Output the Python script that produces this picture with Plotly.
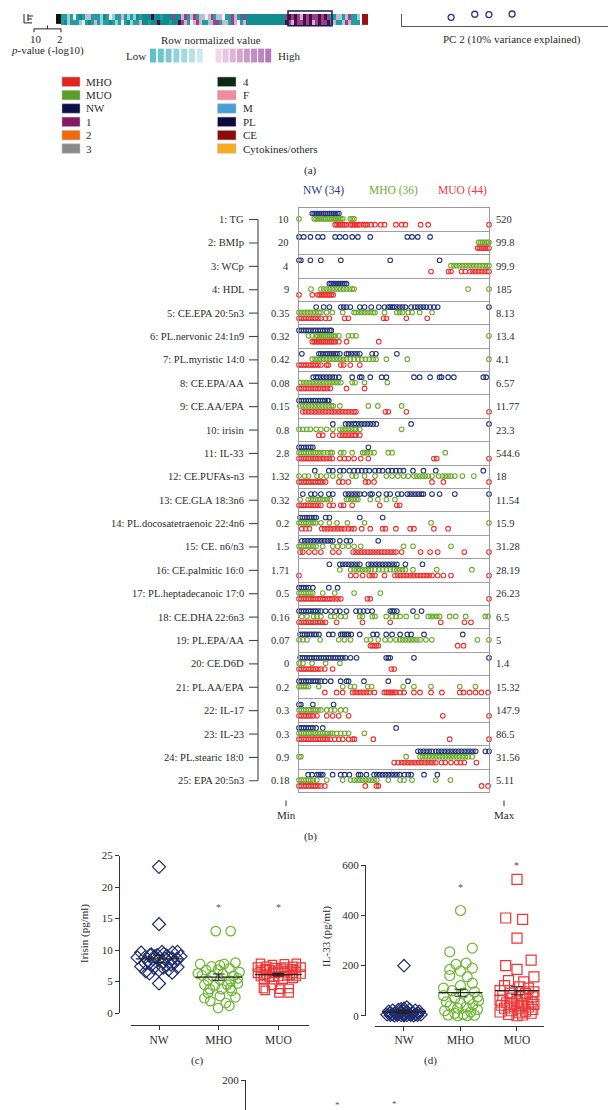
import plotly.graph_objects as go

W, H = 616, 1110
def X(px): return px / W
def Y(py): return 1 - py / H
FONT = "Liberation Serif"
TXT = "#2a2a2a"

# ---------------- panel (b) data (min-max normalised positions) ----------------
groups = ["NW", "MHO", "MUO"]
group_n = [34, 36, 44]
row_labels = ["1: TG", "2: BMIp", "3: WCp", "4: HDL", "5: CE.EPA 20:5n3", "6: PL.nervonic 24:1n9",
              "7: PL.myristic 14:0", "8: CE.EPA/AA", "9: CE.AA/EPA", "10: irisin", "11: IL-33",
              "12: CE.PUFAs-n3", "13: CE.GLA 18:3n6", "14: PL.docosatetraenoic 22:4n6", "15: CE. n6/n3",
              "16: CE.palmitic 16:0", "17: PL.heptadecanoic 17:0", "18: CE.DHA 22:6n3", "19: PL.EPA/AA",
              "20: CE.D6D", "21: PL.AA/EPA", "22: IL-17", "23: IL-23", "24: PL.stearic 18:0", "25: EPA 20:5n3"]
row_min = ["10", "20", "4", "9", "0.35", "0.32", "0.42", "0.08", "0.15", "0.8", "2.8", "1.32", "0.32",
           "0.2", "1.5", "1.71", "0.5", "0.16", "0.07", "0", "0.2", "0.3", "0.3", "0.9", "0.18"]
row_max = ["520", "99.8", "99.9", "185", "8.13", "13.4", "4.1", "6.57", "11.77", "23.3", "544.6", "18",
           "11.54", "15.9", "31.28", "28.19", "26.23", "6.5", "5", "1.4", "15.32", "147.9", "86.5", "31.56", "5.11"]

b_nw = [
    [0.07,0.08,0.09,0.10,0.11,0.12,0.13,0.14,0.15,0.16,0.17,0.18,0.19,0.20,0.21],
    [0.0,0.025,0.06,0.1,0.125,0.19,0.215,0.245,0.28,0.31,0.375,0.57,0.595,0.625,0.69],
    [0.0,0.01,0.06,0.115,0.22,0.48,0.74],
    [0.16,0.17,0.18,0.19,0.20,0.21,0.22,0.23,0.24,0.25],
    [0.09,0.13,0.16,0.22,0.235,0.25,0.27,0.32,0.345,0.38,0.42,0.45,0.47,0.48,0.49,0.50,0.515,0.53,0.545,0.56,0.59,0.61,0.625,0.64,0.655,0.67,0.69,0.71,0.73,1.0],
    [0.0,0.012,0.025,0.037,0.05,0.062,0.075,0.087,0.10,0.112,0.125,0.137,0.15,0.162,0.17],
    [0.015,0.105,0.115,0.125,0.14,0.15,0.16,0.17,0.18,0.19,0.20,0.215,0.25,0.26,0.275,0.29,0.305,0.32,0.385,0.405,0.515],
    [0.075,0.09,0.10,0.115,0.13,0.145,0.16,0.175,0.19,0.21,0.28,0.32,0.33,0.375,0.435,0.46,0.605,0.635,0.69,0.74,0.75,0.785,0.815,0.97,0.985],
    [0.0,0.012,0.025,0.037,0.05,0.062,0.075,0.087,0.10,0.112,0.125,0.137,0.15,0.157],
    [0.178,0.245,0.26,0.275,0.29,0.30,0.315,0.33,0.345,0.36,0.375,0.39,0.407,0.59,1.0],
    [0.0,0.012,0.025,0.037,0.05,0.062,0.073,0.365],
    [0.083,0.157,0.178,0.215,0.235,0.265,0.29,0.31,0.33,0.35,0.37,0.40,0.42,0.44,0.47,0.49,0.51,0.53,0.55,0.60,0.655,0.72,0.97],
    [0.02,0.063,0.083,0.115,0.157,0.178,0.245,0.26,0.275,0.29,0.305,0.32,0.345,0.375,0.385,0.42,0.46,0.48,0.52,0.54,0.57,0.585,0.60,0.615,0.63,0.645,0.655,0.70,0.74,0.82,1.0],
    [0.006,0.018,0.03,0.042,0.055,0.067,0.08,0.09,0.14,0.16,0.32,0.44],
    [0.015,0.03,0.045,0.06,0.075,0.09,0.105,0.12,0.135,0.15,0.165,0.178,0.215,0.25,0.27,0.417],
    [0.16,0.215,0.23,0.245,0.26,0.275,0.29,0.305,0.32,0.365,0.38,0.395,0.41,0.425,0.44,0.455,0.47,0.485,0.5,0.515,0.56,0.65],
    [0.0,0.012,0.025,0.037,0.05,0.073,0.157,0.203],
    [0.0,0.012,0.025,0.037,0.05,0.062,0.075,0.087,0.10,0.115,0.14,0.168,0.195,0.215,0.25,0.30,0.32,0.34,0.36,0.385,0.48,0.49,0.50,0.515,0.60,0.645],
    [0.006,0.018,0.03,0.042,0.055,0.067,0.08,0.09,0.105,0.157,0.178,0.22,0.23,0.24,0.25,0.26,0.275,0.32,0.39,0.41,0.459,0.49,0.532,0.57,0.59,0.658,0.862],
    [0.006,0.018,0.03,0.042,0.055,0.067,0.08,0.092,0.105,0.117,0.13,0.142,0.155,0.167,0.18,0.192,0.205,0.217,0.23,0.245,0.271,0.303,0.459,0.47,0.48,0.605,1.0],
    [0.0,0.012,0.025,0.037,0.05,0.062,0.075,0.087,0.10,0.115,0.136,0.167,0.219,0.25,0.261,0.342,0.47,0.574],
    [0.0,0.01,0.073,0.182],
    [0.0,0.012,0.025,0.037,0.05,0.062,0.073,0.09,0.125,0.511],
    [0.626,0.64,0.655,0.67,0.685,0.70,0.72,0.735,0.75,0.765,0.78,0.795,0.81,0.825,0.84,0.855,0.87,0.885,0.9,0.915,0.93,0.981,1.0],
    [0.048,0.069,0.094,0.105,0.115,0.125,0.177,0.219,0.24,0.265,0.313,0.324,0.355,0.395,0.41,0.425,0.44,0.455,0.47,0.485,0.5,0.515,0.53,0.555,0.575,0.59,0.658,0.728],
]
b_mho = [
    [0.0,0.08,0.09,0.10,0.11,0.12,0.13,0.14,0.15,0.16,0.17,0.18,0.19,0.20,0.21,0.22,0.23,0.27,0.28,0.29],
    [0.945,0.955,0.965,0.975,0.985,0.995,1.0],
    [0.80,0.815,0.83,0.845,0.86,0.875,0.89,0.905,0.92,0.935,0.95,0.965,0.98,0.99,1.0],
    [0.063,0.115,0.13,0.145,0.16,0.175,0.19,0.205,0.22,0.235,0.25,0.265,0.28,0.29,0.89,1.0],
    [0.0,0.015,0.03,0.045,0.06,0.075,0.09,0.105,0.115,0.145,0.175,0.23,0.29,0.30,0.315,0.33,0.345,0.36,0.375,0.39,0.40,0.45,0.515,0.53,0.545,0.575,0.595,0.635,0.70],
    [0.05,0.07,0.09,0.10,0.11,0.12,0.13,0.14,0.15,0.16,0.17,0.18,0.19,0.21,0.26,0.28,0.30,1.0],
    [0.07,0.085,0.10,0.115,0.13,0.145,0.16,0.175,0.19,0.205,0.22,0.235,0.25,0.27,0.29,0.31,0.33,0.35,0.37,0.39,0.405,0.46,0.57,1.0],
    [0.01,0.025,0.04,0.055,0.07,0.085,0.10,0.115,0.13,0.145,0.16,0.175,0.19,0.205,0.22,0.28,0.295,0.345,0.465],
    [0.005,0.02,0.035,0.05,0.065,0.08,0.095,0.11,0.125,0.14,0.155,0.17,0.18,0.215,0.365,0.415,0.54],
    [0.0,0.02,0.04,0.06,0.09,0.115,0.145,0.178,0.215,0.23,0.245,0.26,0.275,0.29,0.30,0.32,0.54],
    [0.0,0.012,0.025,0.037,0.05,0.062,0.075,0.087,0.10,0.115,0.13,0.15,0.165,0.175,0.22,0.235,0.28,0.335,0.345,0.36,0.375,0.395,0.47,0.49,0.77],
    [0.0,0.03,0.05,0.095,0.115,0.145,0.178,0.215,0.28,0.30,0.345,0.40,0.46,0.49,0.52,0.55,0.575,0.605,0.62,0.635,0.65,0.665,0.68,0.70,0.735,0.755,0.77,0.785,0.80,0.82,0.86,0.92],
    [0.006,0.048,0.063,0.075,0.087,0.10,0.112,0.125,0.137,0.15,0.165,0.25,0.26,0.275,0.29,0.30,0.31,0.375,0.415,0.46,0.505],
    [0.0,0.012,0.025,0.037,0.05,0.062,0.075,0.087,0.115,0.16,0.20,0.255,0.345,0.695,1.0],
    [0.0,0.012,0.025,0.037,0.05,0.062,0.075,0.09,0.125,0.178,0.203,0.23,0.26,0.29,0.325,0.55,0.60,0.80],
    [0.215,0.272,0.29,0.305,0.32,0.335,0.35,0.365,0.38,0.40,0.42,0.44,0.46,0.48,0.50,0.515,0.53,0.545,0.56,0.60,0.725,0.91],
    [0.0,0.012,0.025,0.037,0.05,0.062,0.073,0.125,0.188,0.29,0.428],
    [0.015,0.042,0.077,0.094,0.115,0.167,0.188,0.22,0.244,0.32,0.334,0.386,0.40,0.459,0.49,0.511,0.532,0.564,0.62,0.68,0.695,0.71,0.725,0.74,0.793,0.825,0.877,0.98,0.995],
    [0.0,0.021,0.042,0.111,0.209,0.24,0.271,0.355,0.376,0.417,0.453,0.48,0.511,0.53,0.545,0.56,0.575,0.59,0.605,0.62,0.637,0.668,0.699,0.939,1.0],
    [0.0,0.021,0.069,0.14,0.215],
    [0.0,0.012,0.025,0.037,0.05,0.104,0.23,0.271,0.292,0.361,0.382,0.548,0.605,0.695,0.846,0.929],
    [0.0,0.012,0.025,0.037,0.05,0.062,0.075,0.087,0.10,0.115,0.146,0.167,0.188,0.219,0.245],
    [0.0,0.012,0.025,0.037,0.05,0.062,0.075,0.087,0.10,0.112,0.125,0.137,0.15,0.165,0.177,0.198,0.219,0.24,0.261,0.344],
    [0.0,0.01,0.564,0.637,0.65,0.665,0.68,0.695,0.71,0.725,0.74,0.755,0.77,0.785,0.80,0.815,0.83,0.845,0.86,0.875,0.89,0.912],
    [0.0,0.012,0.025,0.037,0.05,0.062,0.075,0.094,0.146,0.23,0.272,0.29,0.305,0.32,0.335,0.35,0.365,0.38,0.395,0.41,0.47,0.532,0.553,0.595,0.72,0.797],
]
b_muo = [
    [0.19,0.20,0.21,0.22,0.23,0.24,0.25,0.27,0.28,0.29,0.30,0.31,0.32,0.34,0.35,0.36,0.38,0.40,0.43,0.45,0.51,0.54,0.56,0.64,0.68,1.0],
    [0.94,0.95,0.96,0.97,0.98,0.99,1.0],
    [0.695,0.787,0.80,0.855,0.875,0.90,0.915,0.93,0.945,0.96,0.975,0.99,1.0],
    [0.0,0.07,0.10,0.11,0.12,0.13,0.14,0.15,0.16,0.17,0.18],
    [0.0,0.012,0.025,0.037,0.05,0.062,0.075,0.087,0.10,0.115,0.14,0.16,0.24,0.26,0.445,0.46,0.565,0.675],
    [0.07,0.08,0.09,0.10,0.11,0.12,0.13,0.14,0.15,0.16,0.17,0.18,0.19,0.21,0.25,0.42],
    [0.0,0.012,0.025,0.037,0.05,0.062,0.075,0.087,0.10,0.115,0.145,0.155,0.22,0.235,0.27,0.32],
    [0.0,0.012,0.025,0.037,0.05,0.062,0.075,0.087,0.10,0.112,0.125,0.137,0.15,0.165,0.25,0.345],
    [0.02,0.035,0.05,0.065,0.08,0.095,0.11,0.125,0.14,0.155,0.17,0.185,0.20,0.215,0.23,0.245,0.26,0.275,0.29,0.30,0.455,0.47,0.565,1.0],
    [0.105,0.125,0.178,0.215,0.23,0.245,0.26,0.275,0.29,0.30,0.32],
    [0.0,0.012,0.025,0.037,0.05,0.062,0.075,0.087,0.10,0.115,0.13,0.145,0.16,0.175,0.215,0.24,0.26,0.29,0.325,0.365,0.71,0.725,1.0],
    [0.0,0.012,0.025,0.037,0.05,0.062,0.075,0.087,0.10,0.112,0.125,0.14,0.21,0.23,0.26,0.35,0.365,0.395,0.70,0.76,1.0],
    [0.0,0.012,0.025,0.037,0.05,0.062,0.075,0.087,0.10,0.115,0.16,0.18,0.22,0.235,0.28,0.425,0.515,0.53],
    [0.015,0.035,0.055,0.12,0.135,0.15,0.165,0.18,0.195,0.21,0.225,0.24,0.26,0.275,0.29,0.33,0.375,0.44,0.455,0.51,0.585,0.605,0.71,0.785],
    [0.006,0.02,0.052,0.083,0.115,0.178,0.21,0.285,0.30,0.315,0.33,0.345,0.36,0.375,0.39,0.405,0.42,0.435,0.45,0.465,0.48,0.495,0.51,0.54,0.64,0.69,0.73,0.87,1.0],
    [0.0,0.272,0.30,0.335,0.37,0.385,0.40,0.45,0.505,0.52,0.535,0.55,0.565,0.58,0.595,0.61,0.625,0.64,0.655,0.67,0.685,0.70,0.73,0.76,0.80,1.0],
    [0.0,0.012,0.025,0.037,0.05,0.062,0.075,0.087,0.10,0.112,0.125,0.137,0.15,0.162,0.175,0.19,0.205,0.22,0.36,0.375,1.0],
    [0.0,0.012,0.025,0.037,0.05,0.062,0.075,0.087,0.10,0.112,0.125,0.14,0.198,0.334,0.48,0.746,0.871,0.905],
    [0.376,0.386,0.397,0.407,0.417,0.835,0.866],
    [0.0,0.012,0.025,0.037,0.05,0.062,0.075,0.087,0.10,0.115,0.136,0.177,0.486,0.501],
    [0.136,0.198,0.23,0.282,0.295,0.31,0.325,0.34,0.355,0.37,0.397,0.449,0.46,0.47,0.48,0.49,0.5,0.51,0.532,0.553,0.605,0.637,0.695,0.752,0.846,0.866,0.898,0.929,0.96,0.995],
    [0.0,0.012,0.025,0.037,0.05,0.062,0.075,0.094,0.146,0.177,0.209,0.261,0.757,1.0],
    [0.0,0.012,0.025,0.037,0.05,0.062,0.075,0.087,0.10,0.112,0.125,0.137,0.15,0.165,0.188,0.209,0.23,0.261,0.282,0.292,0.391,0.793,1.0],
    [0.501,0.522,0.54,0.555,0.57,0.585,0.6,0.615,0.63,0.645,0.66,0.675,0.69,0.705,0.72,0.75,0.77,0.80,0.83,0.85,0.87,0.934],
    [0.0,0.012,0.025,0.037,0.05,0.062,0.075,0.087,0.10,0.115,0.136,0.349,0.407,0.418,0.961,0.995],
]

# ---------------- panel (c) irisin ----------------
cats = ["NW", "MHO", "MUO"]
c_nw_val = [23.2,14.1,9.6,9.2,9.7,9.6,9.7,8.9,9.0,9.1,8.7,8.0,8.0,8.0,7.4,7.2,6.8,6.9,7.3,6.6,6.4,4.7,
            8.8,9.0,8.5,8.6,7.9,7.7,9.3,9.2,9.4,8.6,7.2,6.3]
c_nw_off = [0,0,-0.30,-0.15,0.05,0.23,0.31,-0.23,-0.07,0.13,0.22,-0.16,0.07,0.26,-0.30,-0.09,0,0.16,0.31,-0.22,0.22,0,
            -0.36,0.36,-0.10,0.10,-0.23,0.20,-0.13,-0.03,0.08,0.30,0.07,-0.16]
c_mho_val = [13.0,13.0,7.8,7.4,7.8,8.0,6.8,6.9,7.1,6.5,6.0,5.9,6.2,5.9,5.2,5.3,5.1,4.5,4.4,4.5,4.7,3.8,3.8,4.0,
             2.35,2.7,2.5,1.9,1.6,0.8,1.15,3.2,3.5,6.3,7.6,5.5]
c_mho_off = [-0.05,0.2,-0.31,-0.12,0.09,0.28,-0.21,-0.01,0.18,0.35,-0.28,-0.11,0.07,0.25,-0.18,0.02,0.2,-0.24,-0.06,0.14,0.32,-0.15,0.05,0.2,
             -0.24,0.02,0.28,-0.14,0.12,-0.01,0.18,-0.18,0.22,-0.35,0.02,0.32]
c_muo_val = [7.9,7.7,7.8,7.9, 7.3,7.4,7.2,7.3,7.4,7.3, 6.8,6.9,6.8,6.7,6.8, 6.3,6.2,6.3,6.4,6.3,6.2, 5.8,5.7,5.8,5.9,5.8,
             5.4,5.3,5.4,5.5, 6.0,6.0, 7.0,7.1,7.0, 6.5,6.6, 3.9,3.8,3.9,3.6,3.2,3.2,4.4]
c_muo_off = [-0.3,-0.1,0.1,0.3, -0.35,-0.2,-0.05,0.1,0.25,0.38, -0.3,-0.15,0,0.15,0.3, -0.35,-0.2,-0.05,0.1,0.25,0.38,
             -0.3,-0.15,0,0.15,0.3, -0.25,-0.08,0.08,0.25, -0.25,0.2, -0.22,0.05,0.22, 0.0,-0.1,
             -0.25,0.02,0.18,-0.22,0.01,0.18,-0.1]
c_mean = [8.6, 5.7, 6.1]
c_sem = [0.6, 0.5, 0.2]
c_star = ["", "*", "*"]
c_star_y = [0, 16.8, 16.8]

# ---------------- panel (d) IL-33 ----------------
d_nw_val = [200,30,25,25,22,22,18,18,15,15,12,12,10,10,8,6,6,5,5,4,4,3,2,2,2,2,1,1,0,0,0,20,28,35]
d_nw_off = [0,0.0,-0.1,0.1,-0.2,0.2,-0.27,0.27,-0.05,0.05,-0.15,0.15,-0.25,0.25,0.0,-0.1,0.1,-0.2,0.2,-0.3,0.3,0.0,
            -0.12,0.12,-0.24,0.24,-0.05,0.05,-0.17,0.17,0.0,0.0,-0.05,0.05]
d_mho_val = [420,270,255,210,205,190,185,178,160,155,130,120,100,95,90,80,75,70,65,55,50,45,40,35,30,25,20,15,10,5,3,2,0,0,60,110]
d_mho_off = [0,0.21,-0.19,0.1,-0.08,0.21,-0.19,0,-0.19,0.12,0.21,0.0,-0.15,0.25,0.05,-0.3,0.3,-0.1,0.15,-0.25,0.0,0.22,-0.18,0.1,
             -0.05,0.3,-0.28,0.18,-0.1,0.05,-0.22,0.25,-0.05,0.12,0.32,-0.3]
d_muo_val = [544.6,390,385,310,222,200,185,155,140,135,120,115,110,100,95,90,88,80,78,75,70,65,62,58,55,52,50,48,45,42,40,38,35,
             30,28,25,20,18,15,12,10,5,3,0]
d_muo_off = [0.0,-0.2,0.1,0.0,0.25,-0.2,0.0,0.3,-0.15,0.12,-0.22,0.05,0.2,-0.3,0.3,-0.12,0.15,-0.25,0.05,0.28,-0.1,0.18,-0.3,0.0,
             0.25,-0.18,0.1,-0.05,0.3,-0.28,0.08,-0.12,0.2,-0.22,0.02,0.28,-0.1,0.15,-0.3,0.05,0.25,-0.15,0.1,0.0]
d_mean = [15, 92, 100]
d_sem = [6, 14, 16]
d_star = ["", "*", "*"]
d_star_y = [0, 512, 600]

# ---------------- panel (a) remnants ----------------
legend_left = [("MHO", "#e52420"), ("MUO", "#5a9e24"), ("NW", "#0b1046"), ("1", "#861a62"), ("2", "#f4680c"), ("3", "#8a8a8a")]
legend_right = [("4", "#0c2a12"), ("F", "#f38aa0"), ("M", "#48a0da"), ("PL", "#0b0b42"), ("CE", "#8c0c0c"), ("Cytokines/others", "#f7ac1e")]
low_colors = ["#5ec1c9", "#6cc6cd", "#7ecbd2", "#90d3d8", "#a3dade", "#b7e2e6", "#cdebee"]
high_colors = ["#eed8ea", "#e6c6e1", "#dcb4d7", "#d4a6d0", "#cc99c9", "#c48dc3", "#bd84be", "#b67ab8"]
heat_codes = {"T": 0.0, "t": 0.15, "l": 0.38, "w": 0.5, "p": 0.64, "m": 0.82, "P": 1.0}
heat_row1 = ["ttltwtTtlptttlTtwlttptltlTt", "TTTPTTtTTTmTT", "pmtpmtplwpmtlpwttmptTm", "TTTTTTTTTTTTT", "mPmPmpPmPmmPmPm", "ttpltpmttl"]
heat_row2 = ["tTltttlwtTtptlttTtltwtTlttp", "TTtTTPTTTtTTP", "mptwpmpttlpmmtpltmpwtp", "TTTTTTTTTTTTT", "PmpPmmPmPpmPmmP", "tpttlmpttt"]
pca_pc2 = [-1.66, -1.16, -0.86, -0.37]
pca_pc1 = [-1.88, -1.62, -1.65, -1.60]

fig = go.Figure()

# ---- panel b ----
b_colors = ["#24357a", "#6bab2c", "#ef2d2d"]
b_off = [0.24, 0.47, 0.72]
for gi, data in enumerate([b_nw, b_mho, b_muo]):
    xs, ys = [], []
    for ri, row in enumerate(data):
        xs += row
        ys += [ri + b_off[gi]] * len(row)
    fig.add_trace(go.Scatter(x=xs, y=ys, mode="markers", xaxis="x", yaxis="y", cliponaxis=False,
                             marker=dict(symbol="circle-open", size=4.6, color=b_colors[gi], line=dict(width=1.1)),
                             showlegend=False, hoverinfo="skip"))

# ---- panel c / d ----
cd_colors = ["#1f2d6e", "#6db532", "#ef3535"]
def add_dots(vals, offs, ci, sym, size, xa, ya):
    fig.add_trace(go.Scatter(x=[ci + o for o in offs], y=vals, mode="markers", xaxis=xa, yaxis=ya, cliponaxis=False,
                             marker=dict(symbol=sym, size=size, color=cd_colors[ci], line=dict(width=1.2)),
                             showlegend=False, hoverinfo="skip"))

add_dots(c_nw_val, c_nw_off, 0, "diamond-open", 10, "x2", "y2")
add_dots(c_mho_val, c_mho_off, 1, "circle-open", 9.5, "x2", "y2")
add_dots(c_muo_val, c_muo_off, 2, "square-open", 8.5, "x2", "y2")
add_dots(d_nw_val, d_nw_off, 0, "diamond-open", 9.5, "x3", "y3")
add_dots(d_mho_val, d_mho_off, 1, "circle-open", 10, "x3", "y3")
add_dots(d_muo_val, d_muo_off, 2, "square-open", 10, "x3", "y3")

for means, sems, xa, ya in [(c_mean, c_sem, "x2", "y2"), (d_mean, d_sem, "x3", "y3")]:
    for i, m in enumerate(means):
        fig.add_trace(go.Scatter(x=[i - 0.39, i + 0.39], y=[m, m], mode="lines", xaxis=xa, yaxis=ya,
                                 line=dict(color="#222", width=1.3), showlegend=False, hoverinfo="skip", cliponaxis=False))
    fig.add_trace(go.Scatter(x=[0, 1, 2], y=means, mode="markers", xaxis=xa, yaxis=ya, marker=dict(size=1, opacity=0),
                             error_y=dict(type="data", array=sems, color="#222", thickness=1.1, width=6),
                             showlegend=False, hoverinfo="skip"))

# ---- panel e (top only) ----
fig.add_trace(go.Scatter(x=[0], y=[100], mode="markers", xaxis="x4", yaxis="y4", marker=dict(opacity=0),
                         showlegend=False, hoverinfo="skip"))

# ---- heatmap strip ----
r1 = [heat_codes[c] for c in "".join(heat_row1)]
r2 = [heat_codes[c] for c in "".join(heat_row2)]
n = min(len(r1), len(r2))
fig.add_trace(go.Heatmap(z=[r2[:n], r1[:n]], xaxis="x5", yaxis="y5", showscale=False, zmin=0, zmax=1, hoverinfo="skip",
                         colorscale=[[0, "#0e8c8e"], [0.2, "#2aa3a8"], [0.4, "#9fd6dc"], [0.5, "#f4f0f4"],
                                     [0.62, "#e0b8d8"], [0.8, "#a2488f"], [1, "#4a0c48"]]))
# ---- PCA remnant ----
fig.add_trace(go.Scatter(x=pca_pc2, y=pca_pc1, mode="markers", xaxis="x6", yaxis="y6", cliponaxis=False,
                         marker=dict(symbol="circle-open", size=6, color="#27358a", line=dict(width=1.3)),
                         showlegend=False, hoverinfo="skip"))

tickfont = dict(family=FONT, size=11, color=TXT)
fig.update_layout(
    width=W, height=H, margin=dict(l=0, r=0, t=0, b=0), paper_bgcolor="white", plot_bgcolor="rgba(0,0,0,0)",
    font=dict(family=FONT, color=TXT),
    xaxis=dict(domain=[X(291), X(481)], range=[0, 1], showticklabels=False, showgrid=False, zeroline=False,
               showline=True, mirror=True, linecolor="#9a9a9a", linewidth=1.2, ticks="", anchor="y"),
    yaxis=dict(domain=[Y(787), Y(196)], range=[25, 0], tickvals=list(range(26)), showgrid=True, gridcolor="#a0a0a0",
               gridwidth=1.3, showticklabels=False, zeroline=False, showline=True, mirror=True,
               linecolor="#9a9a9a", linewidth=1.2, ticks="", anchor="x"),
    xaxis2=dict(domain=[X(122.6), X(300.6)], range=[-0.476, 2.506], anchor="free", position=Y(1021.7),
                tickvals=[0, 1, 2], ticktext=cats, ticks="outside", ticklen=4, tickcolor="#333", showline=True,
                linecolor="#333", linewidth=1.1, showgrid=False, zeroline=False, tickfont=dict(family=FONT, size=11.5, color=TXT)),
    yaxis2=dict(domain=[Y(1010), Y(850.7)], range=[0, 25], anchor="free", position=X(111), tickvals=[0, 5, 10, 15, 20, 25],
                ticks="outside", ticklen=4, tickcolor="#333", showline=True, linecolor="#333", linewidth=1.1,
                showgrid=False, zeroline=False, tickfont=tickfont),
    xaxis3=dict(domain=[X(367), X(536)], range=[-0.513, 2.478], anchor="free", position=Y(1022.7),
                tickvals=[0, 1, 2], ticktext=cats, ticks="outside", ticklen=4, tickcolor="#333", showline=True,
                linecolor="#333", linewidth=1.1, showgrid=False, zeroline=False, tickfont=dict(family=FONT, size=11.5, color=TXT)),
    yaxis3=dict(domain=[Y(1012.7), Y(860.7)], range=[0, 600], anchor="free", position=X(357), tickvals=[0, 200, 400, 600],
                ticks="outside", ticklen=4, tickcolor="#333", showline=True, linecolor="#333", linewidth=1.1,
                showgrid=False, zeroline=False, tickfont=tickfont),
    xaxis4=dict(domain=[X(240), X(560)], visible=False, anchor="y4"),
    yaxis4=dict(domain=[0, Y(1078)], range=[120, 200], anchor="free", position=X(237), tickvals=[200],
                ticks="outside", ticklen=4, tickcolor="#333", showline=True, linecolor="#333", linewidth=1.1,
                showgrid=False, zeroline=False, tickfont=tickfont),
    xaxis5=dict(domain=[X(53), X(352)], visible=False, anchor="y5", range=[-0.5, n - 0.5]),
    yaxis5=dict(domain=[Y(11), 1], visible=False, anchor="x5", range=[-0.5, 1.5]),
    xaxis6=dict(domain=[X(394), 1], range=[-2.7, 2.0], anchor="y6", showline=True, linecolor="#555", linewidth=1.1,
                showticklabels=False, showgrid=False, zeroline=False, ticks=""),
    yaxis6=dict(domain=[Y(12), 1], range=[-2.6, -1.6], anchor="x6", showline=True, linecolor="#555", linewidth=1.1,
                showticklabels=False, showgrid=False, zeroline=False, ticks=""),
)

ann = []
shapes = []
def txt(x, y, s, size=11, anchor="center", color=TXT, angle=0, xref="paper", yref="paper"):
    ann.append(dict(x=x, y=y, xref=xref, yref=yref, text=s, showarrow=False, xanchor=anchor, yanchor="middle",
                    textangle=angle, font=dict(family=FONT, size=size, color=color)))
def rect(x0, y0, x1, y1, fill, line="rgba(0,0,0,0)", lw=0):
    shapes.append(dict(type="rect", xref="paper", yref="paper", x0=X(x0), x1=X(x1), y0=Y(y1), y1=Y(y0),
                       fillcolor=fill, line=dict(color=line, width=lw)))
def line(x0, y0, x1, y1, color="#333", w=1.1):
    shapes.append(dict(type="line", xref="paper", yref="paper", x0=X(x0), x1=X(x1), y0=Y(y0), y1=Y(y1),
                       line=dict(color=color, width=w)))

# panel b texts
txt(X(315), Y(178), "NW (34)", 11.5, color="#2a3b85")
txt(X(385), Y(178), "MHO (36)", 11.5, color="#6aaf2d")
txt(X(454), Y(178), "MUO (44)", 11.5, color="#f03c3c")
for i in range(25):
    ann.append(dict(x=X(238), y=i + 0.5, xref="paper", yref="y", text=row_labels[i], showarrow=False, xanchor="right",
                    yanchor="middle", font=dict(family=FONT, size=10.5, color=TXT)))
    ann.append(dict(x=X(283), y=i + 0.5, xref="paper", yref="y", text=row_min[i], showarrow=False, xanchor="right",
                    yanchor="middle", font=dict(family=FONT, size=10.5, color=TXT)))
    ann.append(dict(x=X(486), y=i + 0.5, xref="paper", yref="y", text=row_max[i], showarrow=False, xanchor="left",
                    yanchor="middle", font=dict(family=FONT, size=10.5, color=TXT)))
    shapes.append(dict(type="line", xref="paper", yref="y", x0=X(241), x1=X(250), y0=i + 0.5, y1=i + 0.5,
                       line=dict(color="#444", width=1.1)))
shapes.append(dict(type="line", xref="paper", yref="y", x0=X(250), x1=X(250), y0=0.5, y1=24.5, line=dict(color="#444", width=1.1)))
line(278, 795, 278, 801, "#444")
line(496, 795, 496, 801, "#444")
txt(X(278), Y(810), "Min", 11)
txt(X(496), Y(810), "Max", 11)
txt(X(302), Y(831), "(b)", 11)
txt(X(302), Y(158), "(a)", 11)

# panel c/d texts
txt(X(77), Y(930), "Irisin (pg/ml)", 11, angle=-90)
txt(X(319), Y(933), "IL-33 (pg/ml)", 11, angle=-90)
for i in range(3):
    if c_star[i]:
        ann.append(dict(x=i, y=c_star_y[i], xref="x2", yref="y2", text=c_star[i], showarrow=False,
                        font=dict(family=FONT, size=10, color="#555")))
    if d_star[i]:
        ann.append(dict(x=i, y=d_star_y[i], xref="x3", yref="y3", text=d_star[i], showarrow=False,
                        font=dict(family=FONT, size=10, color="#555")))
txt(X(189), Y(1058), "(c)", 11)
txt(X(422), Y(1058), "(d)", 11)
txt(X(329), Y(1102.5), "*", 9, color="#555")
txt(X(386), Y(1101.5), "*", 9, color="#555")

# panel a remnants
txt(X(203), Y(26), "Row normalized value", 11)
txt(X(128), Y(42), "Low", 11)
txt(X(281), Y(42), "High", 11)
txt(X(504), Y(26), "PC 2 (10% variance explained)", 11)
txt(X(28), Y(25), "10", 11)
txt(X(52), Y(25), "2", 11)
txt(X(40), Y(37), "<i>p</i>-value (-log10)", 11)
line(26, 15, 53, 15, "#333")
line(26, 15, 26, 18.5, "#333")
line(53, 15, 53, 18.5, "#333")
line(39.5, 11.5, 39.5, 15, "#333")
# dendrogram fragment
line(16, 0, 16, 9, "#333")
line(16, 9, 24, 9, "#333")
line(20, 0, 20, 7, "#333")
line(20, 2, 25, 2, "#333")
line(20, 5, 24, 5, "#333")
rect(48, 0, 53, 10, "#111")
rect(354, 0, 360, 11, "#9a1010")
shapes.append(dict(type="rect", xref="paper", yref="paper", x0=X(280), x1=X(324), y0=Y(12), y1=Y(-3),
                   line=dict(color="#1a1a50", width=1.5), fillcolor="rgba(0,0,0,0)"))
bx = 142
for c in low_colors:
    rect(bx, 35, bx + 6, 49, c)
    bx += 7.8
bx = 207.5
for c in high_colors:
    rect(bx, 35, bx + 6, 49, c)
    bx += 7.1
for k, (lab, col) in enumerate(legend_left):
    cy = 68.5 + 13.5 * k
    rect(54, cy - 4.8, 72, cy + 4.8, col, "#bbbbbb", 0.5)
    txt(X(76), Y(cy), lab, 11, anchor="left")
for k, (lab, col) in enumerate(legend_right):
    cy = 68.5 + 13.5 * k
    rect(209.5, cy - 4.8, 228, cy + 4.8, col, "#bbbbbb", 0.5)
    txt(X(233), Y(cy), lab, 11, anchor="left")

fig.update_layout(annotations=ann, shapes=shapes)
fig.write_html("out.html")
